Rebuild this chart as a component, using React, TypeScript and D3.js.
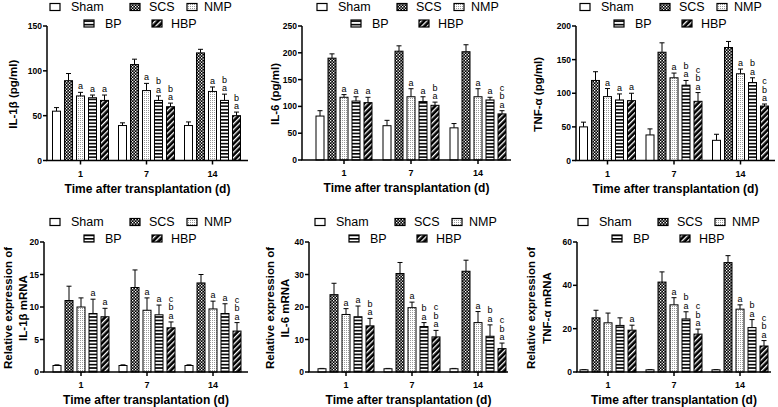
import React from "react";
import * as d3 from "d3";

const days = ["1", "7", "14"];
const groups = ["Sham", "SCS", "NMP", "BP", "HBP"];

// rows = days, cols = groups
const il1bProteinMean = [[55, 89, 72, 70, 67], [39, 107, 78, 67, 60], [39, 120, 77, 67, 50]];
const il1bProteinErr = [[4, 8, 4, 3, 6], [3, 6, 8, 5, 4], [4, 4, 5, 7, 4]];
const il1bProteinLetters = [["", "", "a", "a", "a"], ["", "", "a", "ba", "ba"], ["", "", "a", "ba", "ba"]];

const il6ProteinMean = [[82, 190, 117, 110, 107], [64, 203, 118, 109, 102], [60, 202, 118, 112, 86]];
const il6ProteinErr = [[10, 8, 5, 8, 10], [10, 10, 15, 9, 6], [8, 13, 15, 5, 6]];
const il6ProteinLetters = [["", "", "a", "a", "a"], ["", "", "a", "a", "ba"], ["", "", "a", "a", "cba"]];

const tnfProteinMean = [[50, 119, 95, 90, 89], [38, 161, 123, 112, 88], [30, 168, 129, 116, 81]];
const tnfProteinErr = [[7, 13, 12, 9, 11], [9, 14, 7, 7, 13], [9, 9, 7, 7, 3]];
const tnfProteinLetters = [["", "", "a", "a", "a"], ["", "", "a", "ba", "cba"], ["", "", "a", "ba", "cba"]];

const il1bMrnaMean = [[1, 11, 10, 9, 8.5], [1, 13, 9.5, 8.8, 6.8], [1, 13.7, 9.7, 9, 6.3]];
const il1bMrnaErr = [[0.1, 2.2, 1.4, 2.2, 1.3], [0.1, 2.7, 1.9, 1.5, 0.9], [0.1, 1.3, 1.2, 1.5, 1.3]];
const il1bMrnaLetters = [["", "", "", "a", "a"], ["", "", "a", "a", "cba"], ["", "", "a", "a", "cba"]];

const il6MrnaMean = [[1, 23.8, 17.7, 17, 14.2], [1, 30.3, 19.8, 14, 10.8], [1, 31, 15.2, 11, 7.2]];
const il6MrnaErr = [[0.1, 3.5, 1.8, 3.3, 2.3], [0.1, 3.4, 1.7, 1.2, 2], [0.1, 3.4, 3.4, 3.5, 1.7]];
const il6MrnaLetters = [["", "", "a", "a", "ba"], ["", "", "a", "ba", "cba"], ["", "", "a", "ba", "cba"]];

const tnfMrnaMean = [[1, 25, 22.7, 21.5, 19.3], [1, 41.5, 31, 24.5, 17.5], [1, 50.5, 29, 20.5, 12]];
const tnfMrnaErr = [[0.1, 3.5, 4.5, 3.5, 2.3], [0.1, 4.7, 3.3, 3.3, 2.3], [0.1, 3.2, 2, 3.7, 2.5]];
const tnfMrnaLetters = [["", "", "", "", "a"], ["", "", "a", "ba", "cba"], ["", "", "a", "ba", "cba"]];

const il1bProteinTicks = [0, 50, 100, 150];
const il6ProteinTicks = [0, 50, 100, 150, 200, 250];
const tnfProteinTicks = [0, 50, 100, 150, 200];
const il1bMrnaTicks = [0, 5, 10, 15, 20];
const il6MrnaTicks = [0, 10, 20, 30, 40];
const tnfMrnaTicks = [0, 20, 40, 60];

const xTitle = "Time after transplantation (d)";

const FONT = "'Liberation Sans', Arial, Helvetica, sans-serif";

type Panel = {
  mean: number[][];
  err: number[][];
  letters: string[][];
  ticks: number[];
  ylabel: string[];
  axisX: number;
  axisEnd: number;
  first: number;
  step: number;
  yTop: number;
  yZero: number;
  labelX: number[];
  legendX: number;
  legendY: number;
};

const panels: Panel[] = [
  { mean: il1bProteinMean, err: il1bProteinErr, letters: il1bProteinLetters, ticks: il1bProteinTicks, ylabel: ["IL-1β (pg/ml)"], axisX: 47, axisEnd: 248, first: 80.5, step: 66, yTop: 26, yZero: 160.5, labelX: [13], legendX: 50, legendY: 7 },
  { mean: il6ProteinMean, err: il6ProteinErr, letters: il6ProteinLetters, ticks: il6ProteinTicks, ylabel: ["IL-6 (pg/ml)"], axisX: 302, axisEnd: 511, first: 344, step: 67, yTop: 26, yZero: 160, labelX: [275], legendX: 317, legendY: 7 },
  { mean: tnfProteinMean, err: tnfProteinErr, letters: tnfProteinLetters, ticks: tnfProteinTicks, ylabel: ["TNF-α (pg/ml)"], axisX: 576, axisEnd: 775, first: 607.5, step: 66.5, yTop: 26, yZero: 160.5, labelX: [538], legendX: 580, legendY: 7 },
  { mean: il1bMrnaMean, err: il1bMrnaErr, letters: il1bMrnaLetters, ticks: il1bMrnaTicks, ylabel: ["Relative expression of", "IL-1β mRNA"], axisX: 44, axisEnd: 248, first: 81, step: 66, yTop: 242, yZero: 372, labelX: [8, 23], legendX: 50, legendY: 222 },
  { mean: il6MrnaMean, err: il6MrnaErr, letters: il6MrnaLetters, ticks: il6MrnaTicks, ylabel: ["Relative expression of", "IL-6 mRNA"], axisX: 309, axisEnd: 508, first: 346, step: 66, yTop: 242, yZero: 372, labelX: [270, 285], legendX: 315, legendY: 222 },
  { mean: tnfMrnaMean, err: tnfMrnaErr, letters: tnfMrnaLetters, ticks: tnfMrnaTicks, ylabel: ["Relative expression of", "TNF-α mRNA"], axisX: 577, axisEnd: 771, first: 608, step: 66, yTop: 242, yZero: 372, labelX: [531, 547], legendX: 578, legendY: 222 },
];

const fills = ["#ffffff", "url(#pSCS)", "url(#pNMP)", "url(#pBP)", "url(#pHBP)"];
// legend item offsets (box x, text x, row)
const legendLayout = [
  { bx: 0, tx: 21, row: 0 },
  { bx: 80, tx: 99, row: 0 },
  { bx: 137, tx: 154, row: 0 },
  { bx: 34, tx: 55, row: 1 },
  { bx: 102, tx: 121, row: 1 },
];

function PanelView({ p }: { p: Panel }) {
  const x = d3
    .scaleBand<string>()
    .domain(days)
    .range([p.first - p.step / 2, p.first + 2.5 * p.step])
    .padding(0);
  const y = d3
    .scaleLinear()
    .domain([0, p.ticks[p.ticks.length - 1]])
    .range([p.yZero, p.yTop]);
  const bw = 8;
  const bstep = 12;
  const midY = (p.yZero + p.yTop) / 2 + 1;
  return (
    <g>
      {days.map((d, di) => {
        const c = (x(d) as number) + x.bandwidth() / 2;
        return groups.map((g, gi) => {
          const v = p.mean[di][gi];
          const e = p.err[di][gi];
          const bx = c + (gi - 2) * bstep - bw / 2;
          const top = y(v);
          const etop = y(v + e);
          const cx = bx + bw / 2;
          const letters = p.letters[di][gi].split("");
          return (
            <g key={d + g}>
              <line x1={cx} x2={cx} y1={top} y2={etop} stroke="#000" strokeWidth={1} />
              <line x1={cx - 2.5} x2={cx + 2.5} y1={etop} y2={etop} stroke="#000" strokeWidth={1} />
              <rect x={bx} y={top} width={bw} height={p.yZero - top} fill={fills[gi]} stroke="#000" strokeWidth={1} />
              {letters.map((l, li) => (
                <text
                  key={li}
                  x={cx}
                  y={etop - 3 - (letters.length - 1 - li) * 8.5}
                  textAnchor="middle"
                  fontSize={9}
                  fontFamily={FONT}
                  fill="#000"
                >
                  {l}
                </text>
              ))}
            </g>
          );
        });
      })}
      <line x1={p.axisX} x2={p.axisX} y1={p.yTop} y2={p.yZero} stroke="#000" strokeWidth={1.5} />
      {p.ticks.map((t) => (
        <g key={t}>
          <line x1={p.axisX - 4} x2={p.axisX} y1={y(t)} y2={y(t)} stroke="#000" strokeWidth={1.5} />
          <text x={p.axisX - 5} y={y(t) + 3} textAnchor="end" fontSize={8.5} fontWeight="bold" fontFamily={FONT}>
            {t}
          </text>
        </g>
      ))}
      <line x1={p.axisX - 0.75} x2={p.axisEnd} y1={p.yZero} y2={p.yZero} stroke="#000" strokeWidth={1.5} />
      {days.map((d) => {
        const c = (x(d) as number) + x.bandwidth() / 2;
        return (
          <g key={d}>
            <line x1={c} x2={c} y1={p.yZero} y2={p.yZero + 4} stroke="#000" strokeWidth={1.5} />
            <text x={c} y={p.yZero + 16} textAnchor="middle" fontSize={9} fontWeight="bold" fontFamily={FONT}>
              {d}
            </text>
          </g>
        );
      })}
      <text
        x={(p.axisX + p.axisEnd) / 2}
        y={p.yZero + 32}
        textAnchor="middle"
        fontSize={12}
        fontWeight="bold"
        fontFamily={FONT}
      >
        {xTitle}
      </text>
      {p.ylabel.map((l, i) => (
        <text
          key={i}
          transform={`translate(${p.labelX[i]},${midY}) rotate(-90)`}
          textAnchor="middle"
          dominantBaseline="central"
          fontSize={11.5}
          fontWeight="bold"
          fontFamily={FONT}
        >
          {l}
        </text>
      ))}
      {groups.map((g, gi) => {
        const L = legendLayout[gi];
        const ly = p.legendY + L.row * 16.5;
        return (
          <g key={g}>
            <rect x={p.legendX + L.bx} y={ly - 3.5} width={10} height={7} fill={fills[gi]} stroke="#000" strokeWidth={1.2} />
            <text x={p.legendX + L.tx} y={ly + 4.3} fontSize={12.5} fontFamily={FONT}>
              {g}
            </text>
          </g>
        );
      })}
    </g>
  );
}

export default function App() {
  return (
    <svg
      width={778}
      height={407}
      viewBox="0 0 778 407"
      style={{ position: "absolute", left: 0, top: 0, background: "#fff" }}
    >
      <defs>
        <pattern id="pSCS" patternUnits="userSpaceOnUse" width={3} height={3}>
          <rect width={3} height={3} fill="#000" />
          <rect x={0} y={0} width={1.3} height={1.3} fill="#fff" />
          <rect x={1.5} y={1.5} width={1.3} height={1.3} fill="#fff" />
        </pattern>
        <pattern id="pNMP" patternUnits="userSpaceOnUse" width={2} height={2}>
          <rect width={2} height={2} fill="#fff" />
          <rect x={0} y={0} width={1} height={1} fill="#9a9a9a" />
        </pattern>
        <pattern id="pBP" patternUnits="userSpaceOnUse" width={4} height={3.4}>
          <rect width={4} height={3.4} fill="#fff" />
          <rect x={0} y={0} width={4} height={1.6} fill="#000" />
        </pattern>
        <pattern id="pHBP" patternUnits="userSpaceOnUse" width={4} height={4} patternTransform="rotate(45)">
          <rect width={4} height={4} fill="#000" />
          <rect x={0} y={0} width={1.3} height={4} fill="#fff" />
        </pattern>
      </defs>
      {panels.map((p, i) => (
        <PanelView key={i} p={p} />
      ))}
    </svg>
  );
}
